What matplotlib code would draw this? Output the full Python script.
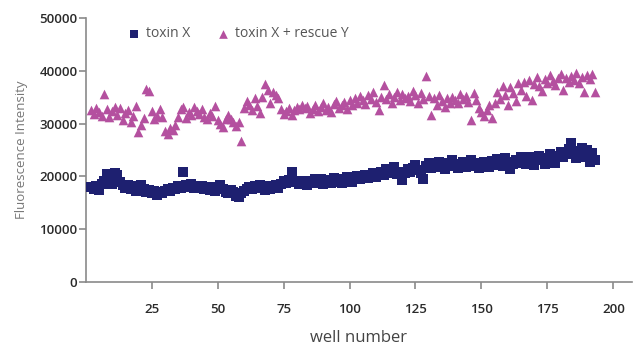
import numpy as np
import matplotlib
matplotlib.use("Agg")
import matplotlib.pyplot as plt

toxin_x = [
    18000, 17600, 18200, 17400, 18500, 19200, 20400, 19800, 18600, 20600,
    20200, 18900, 18300, 17800, 18400, 17600, 18100, 17300, 17900, 18300,
    17500, 17000, 17400, 16800, 17200, 16500, 17000, 16900, 17300, 17600,
    17200, 17800, 17500, 18100, 17700, 20800, 18300, 18000, 18500, 17800,
    18200, 17700, 18100, 17600, 17900, 17400, 18000, 17300, 17800, 18300,
    17500, 17000, 16800, 17400, 17100, 16300, 16000, 16900, 17300, 17600,
    18000, 17500, 18200, 17700, 18300, 17900, 17400, 18100, 17600, 18000,
    18400, 17800, 18600, 19200, 18700, 19300, 20800, 18900, 19100, 18600,
    18800, 19200, 18400, 19000, 18700, 19400, 18900, 19500, 18600, 19100,
    19300, 18800, 19600, 19000, 19400, 18700, 19200, 19800, 19300, 19000,
    19600, 20000, 19400, 19900, 20300, 19700, 20100, 20600, 19900, 20400,
    20800, 20200, 21400, 20600, 21000, 21800, 20500, 20900, 19300, 20700,
    21300, 20800, 21600, 22100, 21200, 20700, 19400, 21900, 22600, 21500,
    22300, 21700, 22800, 22100, 21400, 22500, 21900, 23000, 22300, 21600,
    22100, 22700, 21800, 22400, 23100, 22000, 22600, 21500, 22200, 22800,
    22300, 21700, 22900, 22200, 23300, 22600, 22000, 23500, 22700, 21300,
    22400, 23100, 22500, 23600, 22900, 22300, 23700, 22800, 22100, 23200,
    23900, 23000, 22400, 23500, 24200, 23300, 22600, 23800, 24600, 23700,
    24300, 25100, 26400, 24500, 23400, 24800, 25400, 23600, 24900, 22800,
    24400, 23000,
]

toxin_x_rescue_y = [
    32500, 31800, 33000, 32200, 31500, 35600, 32800, 31200, 32400, 33100,
    31600, 32900, 30600, 31900, 32600, 30200, 31400, 33400, 28400, 29800,
    31000, 36500, 36200, 32400, 30900, 31500, 32800, 31300, 28600, 28000,
    29200, 28700, 29800, 31300, 32700, 33100, 31000, 32200, 31600, 33200,
    32400, 31800, 32700, 31200, 30800, 32000, 31400, 33400, 30600, 30000,
    29400, 30800, 31600, 30900, 30200, 29600, 30300, 26600, 33000, 34200,
    33500, 32600, 34800, 33400, 32000, 35100, 37500, 36400, 33800, 36000,
    35400, 34800, 32800, 31800, 32400, 33000, 31600, 32500, 33200, 32700,
    33500, 32900, 33300, 31900, 32800, 33600, 32400, 33100, 33800, 32500,
    33200, 32100, 33700, 34200, 32900, 33500, 34000, 32700, 34400, 33600,
    34800, 33900, 35200, 34500, 33700, 35400, 34600, 35900, 34100, 32600,
    35000, 37300, 34700, 35500, 33800, 35100, 36000, 34400, 35600, 34900,
    35300, 34200, 36100, 35400, 33900, 35800, 34600, 39000, 35200, 31600,
    34800, 33600, 35400, 34300, 33200, 34900, 33900, 35100, 34400, 33800,
    35600, 34700, 35300, 34100, 30700, 35800, 34500, 33000, 32200, 31400,
    32600, 33500, 31000, 33800, 36000, 34600, 37200, 35400, 33600, 37000,
    35800, 34200, 37600, 36400, 37900, 35300, 38300, 34500, 37400, 38800,
    37100, 36200, 38500, 37700, 39200, 38000, 37300, 38700, 39400, 36300,
    38600, 37900, 39000, 38300, 39500, 37600, 38900, 36000, 39200, 38400,
    39300, 35900,
]

x_ticks = [25, 50, 75, 100, 125, 150, 175, 200]
y_ticks = [0, 10000, 20000, 30000, 40000, 50000]

wells = np.arange(2, 2 + len(toxin_x))

plt.rcParams['font.family'] = ['Open Sans', 'DejaVu Sans']

fig = plt.figure(figsize=(6.35, 3.45), dpi=100)
ax = fig.add_axes([0.135, 0.183, 0.86, 0.765])

navy = '#1e2070'
magenta = '#b4509f'
ax.scatter(wells, toxin_x, marker='s', s=48, color=navy, linewidths=0,
           label='toxin X', zorder=3)
ax.scatter(wells, toxin_x_rescue_y, marker='^', s=48, color=magenta,
           linewidths=0, label='toxin X + rescue Y', zorder=3)

ax.set_xlim(0, 207)
ax.set_ylim(0, 50000)
ax.set_xticks(x_ticks)
ax.set_yticks(y_ticks)
ax.set_xticklabels([str(t) for t in x_ticks])
ax.set_yticklabels([str(t) for t in y_ticks])

for s in ['top', 'right']:
    ax.spines[s].set_visible(False)
for s in ['left', 'bottom']:
    ax.spines[s].set_color('#8a8a8a')
    ax.spines[s].set_linewidth(1.2)

ax.tick_params(axis='both', colors='#8a8a8a', width=1.2, length=5,
               labelcolor='#2a2a2a', labelsize=9.5)
for lab in ax.get_xticklabels() + ax.get_yticklabels():
    lab.set_fontweight('semibold')
ax.tick_params(axis='x', pad=10)
ax.tick_params(axis='y', pad=1)

ax.set_xlabel('well number', fontsize=12, color='#444444', labelpad=10)
ax.set_ylabel('Fluorescence Intensity', fontsize=9.5, color='#777777',
              labelpad=8)

leg = ax.legend(loc='upper left', bbox_to_anchor=(0.04, 1.015), ncol=2,
                frameon=False, fontsize=10, handletextpad=-0.1,
                columnspacing=1.3, markerscale=0.9, labelcolor='#555555')

fig.savefig('out.png', dpi=100)
